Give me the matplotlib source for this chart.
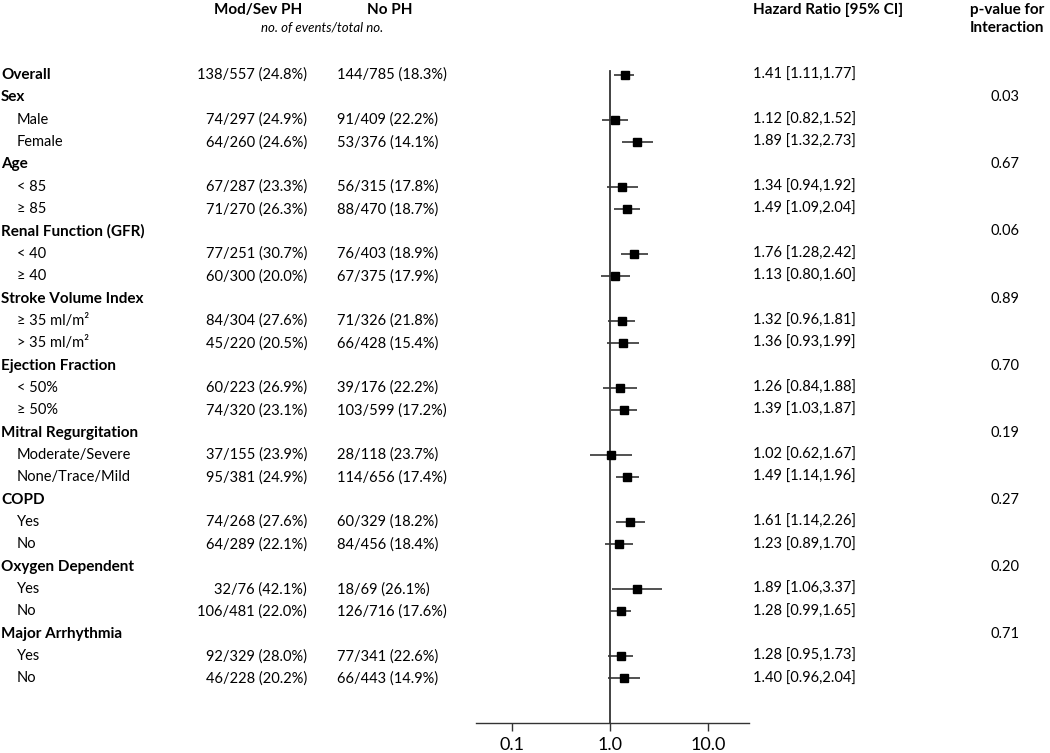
import numpy as np
import matplotlib.pyplot as plt
from matplotlib.ticker import FixedLocator, NullLocator

plt.rcParams['font.family'] = ['Lato', 'DejaVu Sans']

# subgroup layout
groups = ["Sex", "Age", "Renal Function (GFR)", "Stroke Volume Index",
          "Ejection Fraction", "Mitral Regurgitation", "COPD",
          "Oxygen Dependent", "Major Arrhythmia"]
p_interaction = [0.03, 0.67, 0.06, 0.89, 0.70, 0.19, 0.27, 0.20, 0.71]
subgroups = [["Male", "Female"], ["< 85", "\u2265 85"], ["< 40", "\u2265 40"],
             ["\u2265 35 ml/m\u00b2", "> 35 ml/m\u00b2"], ["< 50%", "\u2265 50%"],
             ["Moderate/Severe", "None/Trace/Mild"], ["Yes", "No"],
             ["Yes", "No"], ["Yes", "No"]]

# data rows: Overall first, then the subgroups in order
mod_events = [138, 74, 64, 67, 71, 77, 60, 84, 45, 60, 74, 37, 95, 74, 64, 32, 106, 92, 46]
mod_total = [557, 297, 260, 287, 270, 251, 300, 304, 220, 223, 320, 155, 381, 268, 289, 76, 481, 329, 228]
nph_events = [144, 91, 53, 56, 88, 76, 67, 71, 66, 39, 103, 28, 114, 60, 84, 18, 126, 77, 66]
nph_total = [785, 409, 376, 315, 470, 403, 375, 326, 428, 176, 599, 118, 656, 329, 456, 69, 716, 341, 443]
hr = [1.41, 1.12, 1.89, 1.34, 1.49, 1.76, 1.13, 1.32, 1.36, 1.26, 1.39, 1.02, 1.49, 1.61, 1.23, 1.89, 1.28, 1.28, 1.40]
ci_lo = [1.11, 0.82, 1.32, 0.94, 1.09, 1.28, 0.80, 0.96, 0.93, 0.84, 1.03, 0.62, 1.14, 1.14, 0.89, 1.06, 0.99, 0.95, 0.96]
ci_hi = [1.77, 1.52, 2.73, 1.92, 2.04, 2.42, 1.60, 1.81, 1.99, 1.88, 1.87, 1.67, 1.96, 2.26, 1.70, 3.37, 1.65, 1.73, 2.04]

W, H = 1050, 753
fig = plt.figure(figsize=(W / 100, H / 100), dpi=100)

# text layer in pixel coordinates
tx = fig.add_axes([0, 0, 1, 1])
tx.set_xlim(0, W)
tx.set_ylim(H, 0)
tx.axis('off')

# forest panel
ax_l, ax_r, ax_b = 476, 749, 723
ax = fig.add_axes([ax_l / W, (H - ax_b) / H, (ax_r - ax_l) / W, ax_b / H])
dec = 98.0
x1 = 610
ax.set_xscale('log')
ax.set_xlim(10 ** ((ax_l - x1) / dec), 10 ** ((ax_r - x1) / dec))
ax.set_ylim(ax_b, 0)
ax.patch.set_alpha(0)
for s in ['top', 'right', 'left']:
    ax.spines[s].set_visible(False)
ax.spines['bottom'].set_color('#333333')
ax.spines['bottom'].set_linewidth(1.0)
ax.xaxis.set_major_locator(FixedLocator([0.1, 1.0, 10.0]))
ax.xaxis.set_minor_locator(NullLocator())
ax.set_xticklabels(['0.1', '1.0', '10.0'])
ax.tick_params(axis='x', direction='out', length=6, width=1, color='#333333',
               labelsize=13, pad=4)
ax.set_yticks([])

row0, step = 75, 22.35
fs = 10.5

def ypos(i):
    return row0 + step * i

# headers
tx.text(258, 10, "Mod/Sev PH", ha='center', va='center', fontsize=11, fontweight='bold')
tx.text(390, 10, "No PH", ha='center', va='center', fontsize=11, fontweight='bold')
tx.text(322, 28, "no. of events/total no.", ha='center', va='center', fontsize=9.5, style='italic')
tx.text(828, 10, "Hazard Ratio [95% CI]", ha='center', va='center', fontsize=11, fontweight='bold')
tx.text(1007, 10, "p-value for", ha='center', va='center', fontsize=11, fontweight='bold')
tx.text(1007, 28, "Interaction", ha='center', va='center', fontsize=11, fontweight='bold')

# build row list
labels, bold, data_idx, pvals = ["Overall"], [True], [0], [None]
k = 1
for g, subs, p in zip(groups, subgroups, p_interaction):
    labels.append(g); bold.append(True); data_idx.append(None); pvals.append(p)
    for s in subs:
        labels.append(s); bold.append(False); data_idx.append(k); pvals.append(None)
        k += 1

for i, (lab, b, d, p) in enumerate(zip(labels, bold, data_idx, pvals)):
    y = ypos(i)
    if b:
        tx.text(1, y, lab, ha='left', va='center', fontsize=11, fontweight='bold')
    else:
        tx.text(17, y, lab, ha='left', va='center', fontsize=fs)
    if p is not None:
        tx.text(1005, y, f"{p:.2f}", ha='center', va='center', fontsize=fs)
    if d is None:
        continue
    tx.text(307, y, f"{mod_events[d]}/{mod_total[d]} ({100 * mod_events[d] / mod_total[d]:.1f}%)",
            ha='right', va='center', fontsize=fs)
    tx.text(337, y, f"{nph_events[d]}/{nph_total[d]} ({100 * nph_events[d] / nph_total[d]:.1f}%)",
            ha='left', va='center', fontsize=fs)
    tx.text(753, y, f"{hr[d]:.2f} [{ci_lo[d]:.2f},{ci_hi[d]:.2f}]",
            ha='left', va='center', fontsize=fs)
    ax.plot([ci_lo[d], ci_hi[d]], [y, y], color='#333333', lw=1.2, solid_capstyle='butt', zorder=2)
    ax.plot(hr[d], y, marker='s', ms=5.5, color='black', zorder=3)

ax.plot([1, 1], [71, ax_b], color='#333333', lw=1.3, zorder=1)

fig.savefig('out.png', dpi=100)
